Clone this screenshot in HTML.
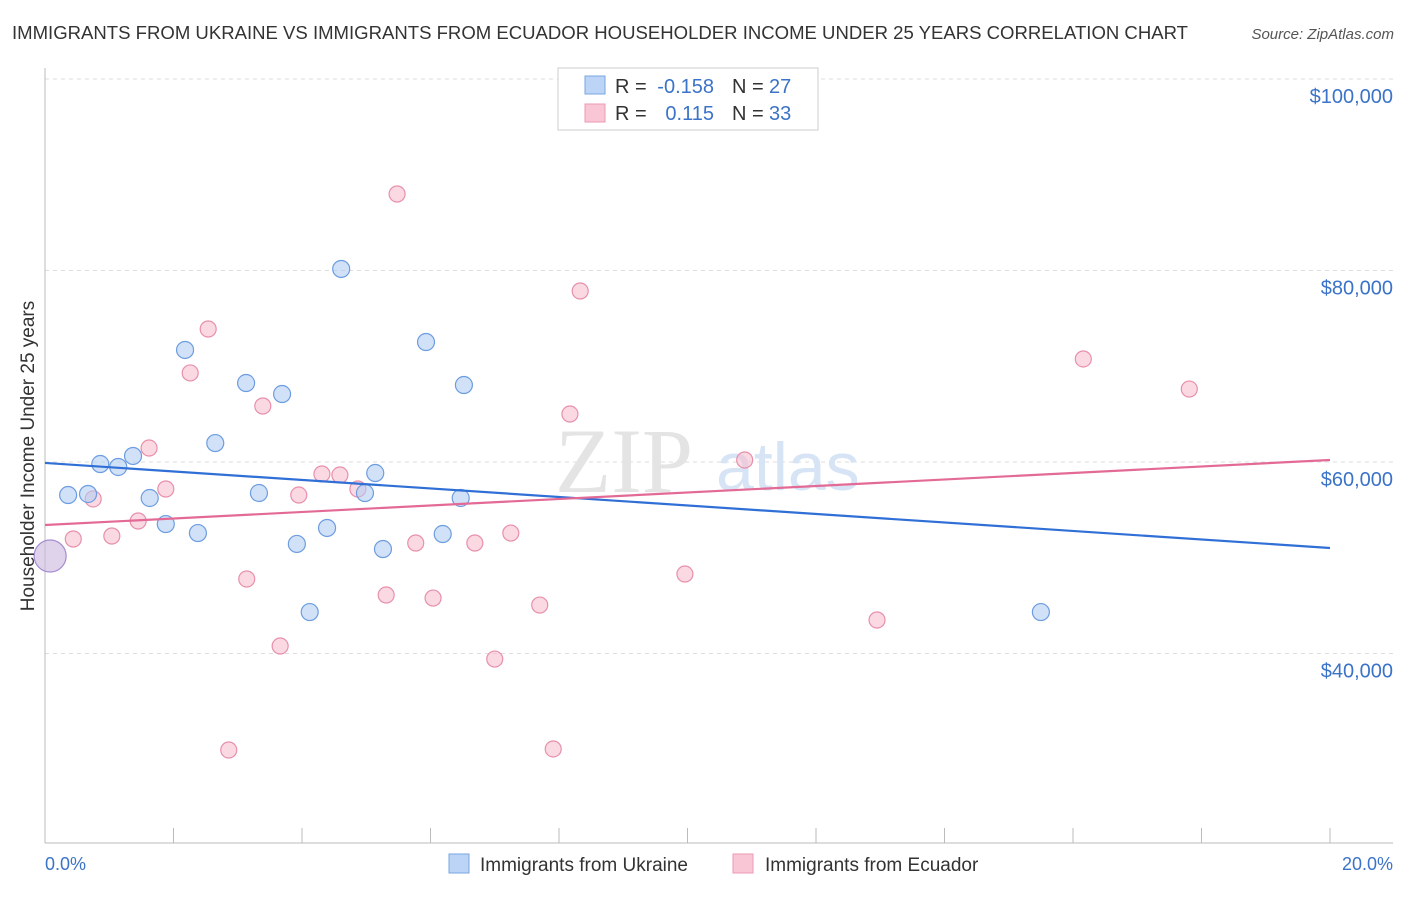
<!DOCTYPE html>
<html><head><meta charset="utf-8"><style>
body{margin:0;background:#fff;font-family:"Liberation Sans",sans-serif;}
</style></head><body>
<svg id="chart" width="1406" height="892" xmlns="http://www.w3.org/2000/svg">
<text x="12" y="39" font-size="18.5" fill="#333" textLength="1176" lengthAdjust="spacingAndGlyphs">IMMIGRANTS FROM UKRAINE VS IMMIGRANTS FROM ECUADOR HOUSEHOLDER INCOME UNDER 25 YEARS CORRELATION CHART</text>
<text x="1394" y="39" font-size="15" fill="#555" font-style="italic" text-anchor="end">Source: ZipAtlas.com</text>
<g id="grid"></g>
<text x="555" y="492" font-size="92" fill="#e4e4e4" font-family="Liberation Serif">ZIP</text>
<text x="716" y="490" font-size="68" fill="#d6e4f5">atlas</text>
<g id="marks"></g>
<text transform="translate(34,456) rotate(-90)" font-size="19" fill="#333" text-anchor="middle">Householder Income Under 25 years</text>
<text x="45" y="870" font-size="18" fill="#3b73c8">0.0%</text>
<text x="1393" y="870" font-size="18" fill="#3b73c8" text-anchor="end">20.0%</text>
<g>
<rect x="558" y="68" width="260" height="62" fill="#fff" stroke="#ccc"/>
<rect x="585" y="76" width="20" height="18" fill="#bcd4f5" stroke="#7aa6e3"/>
<text x="615" y="93" font-size="20" fill="#333">R =</text>
<text x="714" y="93" font-size="20" fill="#3b73c8" text-anchor="end">-0.158</text>
<text x="732" y="93" font-size="20" fill="#333">N =</text>
<text x="769" y="93" font-size="20" fill="#3b73c8">27</text>
<rect x="585" y="104" width="20" height="18" fill="#f9c6d5" stroke="#ec9ab4"/>
<text x="615" y="120" font-size="20" fill="#333">R =</text>
<text x="714" y="120" font-size="20" fill="#3b73c8" text-anchor="end">0.115</text>
<text x="732" y="120" font-size="20" fill="#333">N =</text>
<text x="769" y="120" font-size="20" fill="#3b73c8">33</text>
</g>
<g>
<rect x="449" y="854" width="20" height="19" fill="#bcd4f5" stroke="#7aa6e3"/>
<text x="480" y="871" font-size="19" fill="#333">Immigrants from Ukraine</text>
<rect x="733" y="854" width="20" height="19" fill="#f9c6d5" stroke="#ec9ab4"/>
<text x="765" y="871" font-size="19" fill="#333">Immigrants from Ecuador</text>
</g>
</svg>
<script>
const yTicks=[40000,60000,80000,100000];
const yTickLabels=["$40,000","$60,000","$80,000","$100,000"];
const ukraineX=[0.36,0.67,0.86,1.14,1.37,1.63,1.88,2.18,2.38,2.65,3.13,3.33,3.69,3.92,4.12,4.39,4.61,4.98,5.14,5.26,5.93,6.19,6.47,6.52,15.5];
const ukraineY=[56550,56660,59790,59480,60630,56240,53520,71700,52580,61980,68250,56760,67100,51440,44330,53110,80160,56760,58850,50910,72530,52480,56240,68040,44330];
const ecuadorX=[0.44,0.75,1.04,1.45,1.62,1.88,2.26,2.54,2.86,3.14,3.39,3.66,3.95,4.31,4.59,4.87,5.31,5.48,5.77,6.04,6.69,7.0,7.25,7.7,7.91,8.17,8.33,9.96,10.89,12.95,16.16,17.81];
const ecuadorY=[51960,56140,52270,53840,61460,57180,69300,73890,29920,47780,65850,40780,56550,58750,58640,57180,46110,87990,51540,45790,51540,39420,52580,45060,30030,65010,77860,48300,60210,43500,70760,67620];
const bigX=[0.08];
const bigY=[50180];
const ukraineTrend=[59900,51020];
const ecuadorTrend=[53420,60210];
const trendX=[0,20];
const NS="http://www.w3.org/2000/svg";
const sx=v=>45+v/20*1285;
const sy=v=>79+(100000-v)*191.5/20000;
const grid=document.getElementById('grid'),marks=document.getElementById('marks');
function mk(tag,attrs,parent){const e=document.createElementNS(NS,tag);for(const k in attrs)e.setAttribute(k,attrs[k]);parent.appendChild(e);return e;}
yTicks.forEach((t,i)=>{
 const l=mk('line',{x1:45,x2:1393,y1:sy(t),y2:sy(t),stroke:'#ddd','stroke-dasharray':'4,4'},grid);
 
 
 const tx=mk('text',{x:1393,y:sy(t)+24,'font-size':20,fill:'#3b73c8','text-anchor':'end'},grid);
 tx.textContent=yTickLabels[i];
 
 
});
const ax=mk('line',{x1:45,x2:45,y1:68,y2:843,stroke:'#bbb'},grid);


const bx=mk('line',{x1:45,x2:1393,y1:843,y2:843,stroke:'#bbb'},grid);


for(let i=0;i<=10;i++){const t=mk('line',{x1:sx(i*2),x2:sx(i*2),y1:828,y2:843,stroke:'#bbb'},grid);
 
 }
function dots(X,Y,fill,stroke,r,name){X.forEach((x,i)=>{const c=mk('circle',{cx:sx(x),cy:sy(Y[i]),r:r,fill:fill,'fill-opacity':0.6,stroke:stroke,'stroke-width':1.2},marks);
 
 });}
dots(ecuadorX,ecuadorY,'#f7bfd0','#e88fab',8,'ecuador-point');
dots(ukraineX,ukraineY,'#b3cdf2','#6d9de0',8.5,'ukraine-point');
dots(bigX,bigY,'#c9b5e0','#a58cd0',16,'combined-point');
const l1=mk('line',{x1:sx(trendX[0]),x2:sx(trendX[1]),y1:sy(ukraineTrend[0]),y2:sy(ukraineTrend[1]),stroke:'#2f6fd6','stroke-width':2.2},marks);


const l2=mk('line',{x1:sx(trendX[0]),x2:sx(trendX[1]),y1:sy(ecuadorTrend[0]),y2:sy(ecuadorTrend[1]),stroke:'#e46a96','stroke-width':2.2},marks);


</script>
</body></html>
